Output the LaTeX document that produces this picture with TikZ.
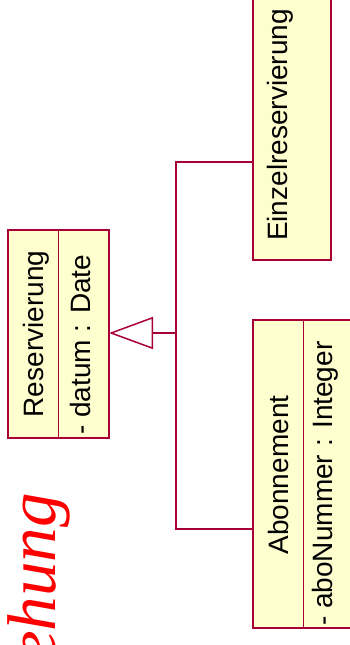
\documentclass[tikz,border=0pt]{standalone}
\usepackage{fontspec}
\setmainfont{Liberation Sans}
\newfontfamily\titlefont{Liberation Serif}
\usetikzlibrary{arrows.meta}
\definecolor{umlborder}{HTML}{A80036}
\definecolor{umlfill}{HTML}{FEFECE}
\begin{document}
\begin{tikzpicture}[x=1pt,y=-1pt]
\tikzstyle{every node}+=[inner sep=0pt]
\tikzstyle{classbox}=[draw=umlborder,fill=umlfill,line width=1.8pt]
\tikzstyle{classtext}=[font=\fontsize{28}{30}\selectfont,rotate=90]
\tikzstyle{gen}=[draw=umlborder,line width=1.5pt]
\useasboundingbox (0,0) rectangle (350,645);
\begin{scope}
\clip (0,0) rectangle (350,645);
% title, mostly outside the page
\node[text=red,font=\titlefont\itshape\fontsize{69}{72}\selectfont,rotate=90,anchor=base east] (title) at (55,493) {Beziehung};
% Reservierung
\draw[classbox] (8,230) rectangle (109,438);
\draw[gen] (58.5,230) -- (58.5,438);
\node[classtext,anchor=base] (res) at (43,334) {Reservierung};
\node[classtext,anchor=base west] (resattr) at (90,435) {- datum : Date};
\coordinate (resside) at (109,333);
% Einzelreservierung
\draw[classbox] (253,-10) rectangle (331,260);
\node[classtext,anchor=base] (einz) at (287,125) {Einzelreservierung};
\coordinate (einzside) at (253,162);
% Abonnement
\draw[classbox] (253,320) rectangle (354,628);
\draw[gen] (303.5,320) -- (303.5,628);
\node[classtext,anchor=base] (abo) at (288,475) {Abonnement};
\node[classtext,anchor=base west] (aboattr) at (332,626) {- aboNummer : Integer};
\coordinate (aboside) at (253,529);
% generalisation
\coordinate (hub) at (176,333);
\draw[gen] (einzside) -| (hub) |- (aboside);
\draw[gen,-{Triangle[open,length=44pt,width=32pt]}] (hub) -- (resside);
\end{scope}
\end{tikzpicture}
\end{document}
